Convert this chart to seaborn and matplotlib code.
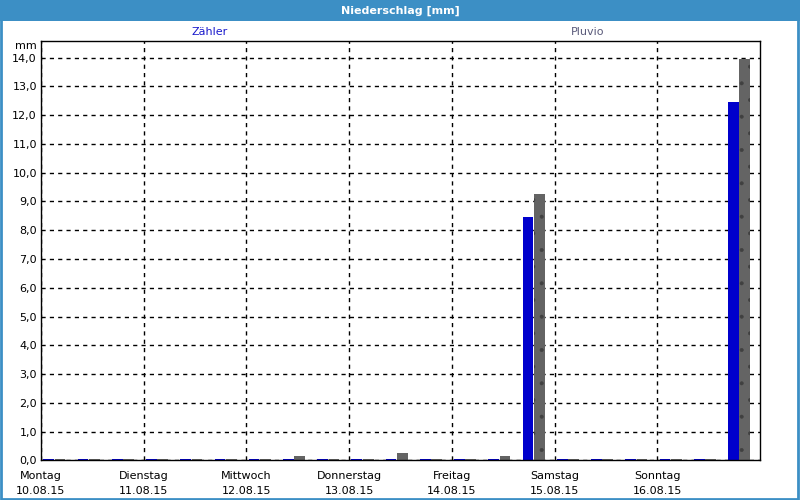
import matplotlib
matplotlib.use("Agg")
import matplotlib.pyplot as plt
from matplotlib.patches import Rectangle
import seaborn as sns
import pandas as pd
import numpy as np

# ---- data ----
slots = list(range(21))  # 3 slots per day, 7 days
zaehler = [0.06, 0.06, 0.06, 0.06, 0.06, 0.06, 0.06, 0.06, 0.06, 0.06, 0.06,
           0.06, 0.06, 0.06, 8.45, 0.06, 0.06, 0.06, 0.06, 0.06, 12.45]
pluvio = [0.06, 0.06, 0.06, 0.06, 0.06, 0.06, 0.06, 0.16, 0.06, 0.06, 0.26,
          0.06, 0.06, 0.16, 9.25, 0.06, 0.06, 0.06, 0.06, 0.06, 13.95]
days = ["Montag", "Dienstag", "Mittwoch", "Donnerstag", "Freitag", "Samstag", "Sonntag"]
dates = ["10.08.15", "11.08.15", "12.08.15", "13.08.15", "14.08.15", "15.08.15", "16.08.15"]
yticks = list(range(0, 15))
series = ["Zähler", "Pluvio"]

df = pd.DataFrame({
    "slot": slots * 2,
    "value": zaehler + pluvio,
    "series": [series[0]] * len(slots) + [series[1]] * len(slots),
})

sns.set_style("white")
plt.rcParams["font.family"] = ["DejaVu Sans"]
plt.rcParams["hatch.linewidth"] = 0.4

blue = "#0000CC"
grey = "#646464"

fig = plt.figure(figsize=(8, 5), dpi=100)
fig.patch.set_facecolor("white")
ax = fig.add_axes([41 / 800, (500 - 460.3) / 500, (760 - 41) / 800, (460.3 - 40.7) / 500])

sns.barplot(data=df, x="slot", y="value", hue="series", order=slots,
            hue_order=series, palette=[blue, grey], width=0.66, gap=0.05,
            saturation=1, legend=False, ax=ax, linewidth=0)

for p in ax.containers[1]:
    p.set_hatch(".")
    p.set_edgecolor("#404040")
    p.set_linewidth(0)

off = 0.39
ax.set_xlim(-off, 21 - off)
ax.set_ylim(0, 14.59)

day_pos = [3 * k - off for k in range(7)]
ax.set_xticks(day_pos)
ax.set_xticklabels([f"{d}\n{t}" for d, t in zip(days, dates)], fontsize=8, linespacing=1.6)
ax.set_yticks(yticks)
ax.set_yticklabels([f"{v:.1f}".replace(".", ",") for v in yticks], fontsize=8)
ax.tick_params(axis="x", direction="out", length=3, width=1, pad=5, colors="black")
ax.tick_params(axis="y", length=0, pad=3, colors="black")
ax.grid(True, axis="both", linestyle=(0, (3, 3)), color="black", linewidth=1)
ax.set_axisbelow(True)
ax.set_xlabel("")
ax.set_ylabel("")
for s in ax.spines.values():
    s.set_visible(True)
    s.set_color("black")
    s.set_linewidth(1.0)

# title bar
fig.patches.append(Rectangle((0, 1 - 21 / 500), 1, 21 / 500, transform=fig.transFigure,
                             facecolor="#3C8FC5", edgecolor="none", zorder=0))
fig.patches.append(Rectangle((0.001, 0.002), 0.997, 0.996, transform=fig.transFigure,
                             facecolor="none", edgecolor="#3C8FC5", linewidth=2, zorder=5))
fig.text(0.5, 1 - 10.5 / 500, "Niederschlag [mm]", color="white", fontsize=8,
         fontweight="bold", ha="center", va="center")

fig.text(210 / 800, 1 - 32 / 500, series[0], color="#1a1acc", fontsize=8, ha="center", va="center")
fig.text(588 / 800, 1 - 32 / 500, series[1], color="#5a5a7a", fontsize=8, ha="center", va="center")
fig.text(37 / 800, 1 - 46 / 500, "mm", color="black", fontsize=8, ha="right", va="center")

fig.savefig("out.png", dpi=100, facecolor=fig.get_facecolor())
